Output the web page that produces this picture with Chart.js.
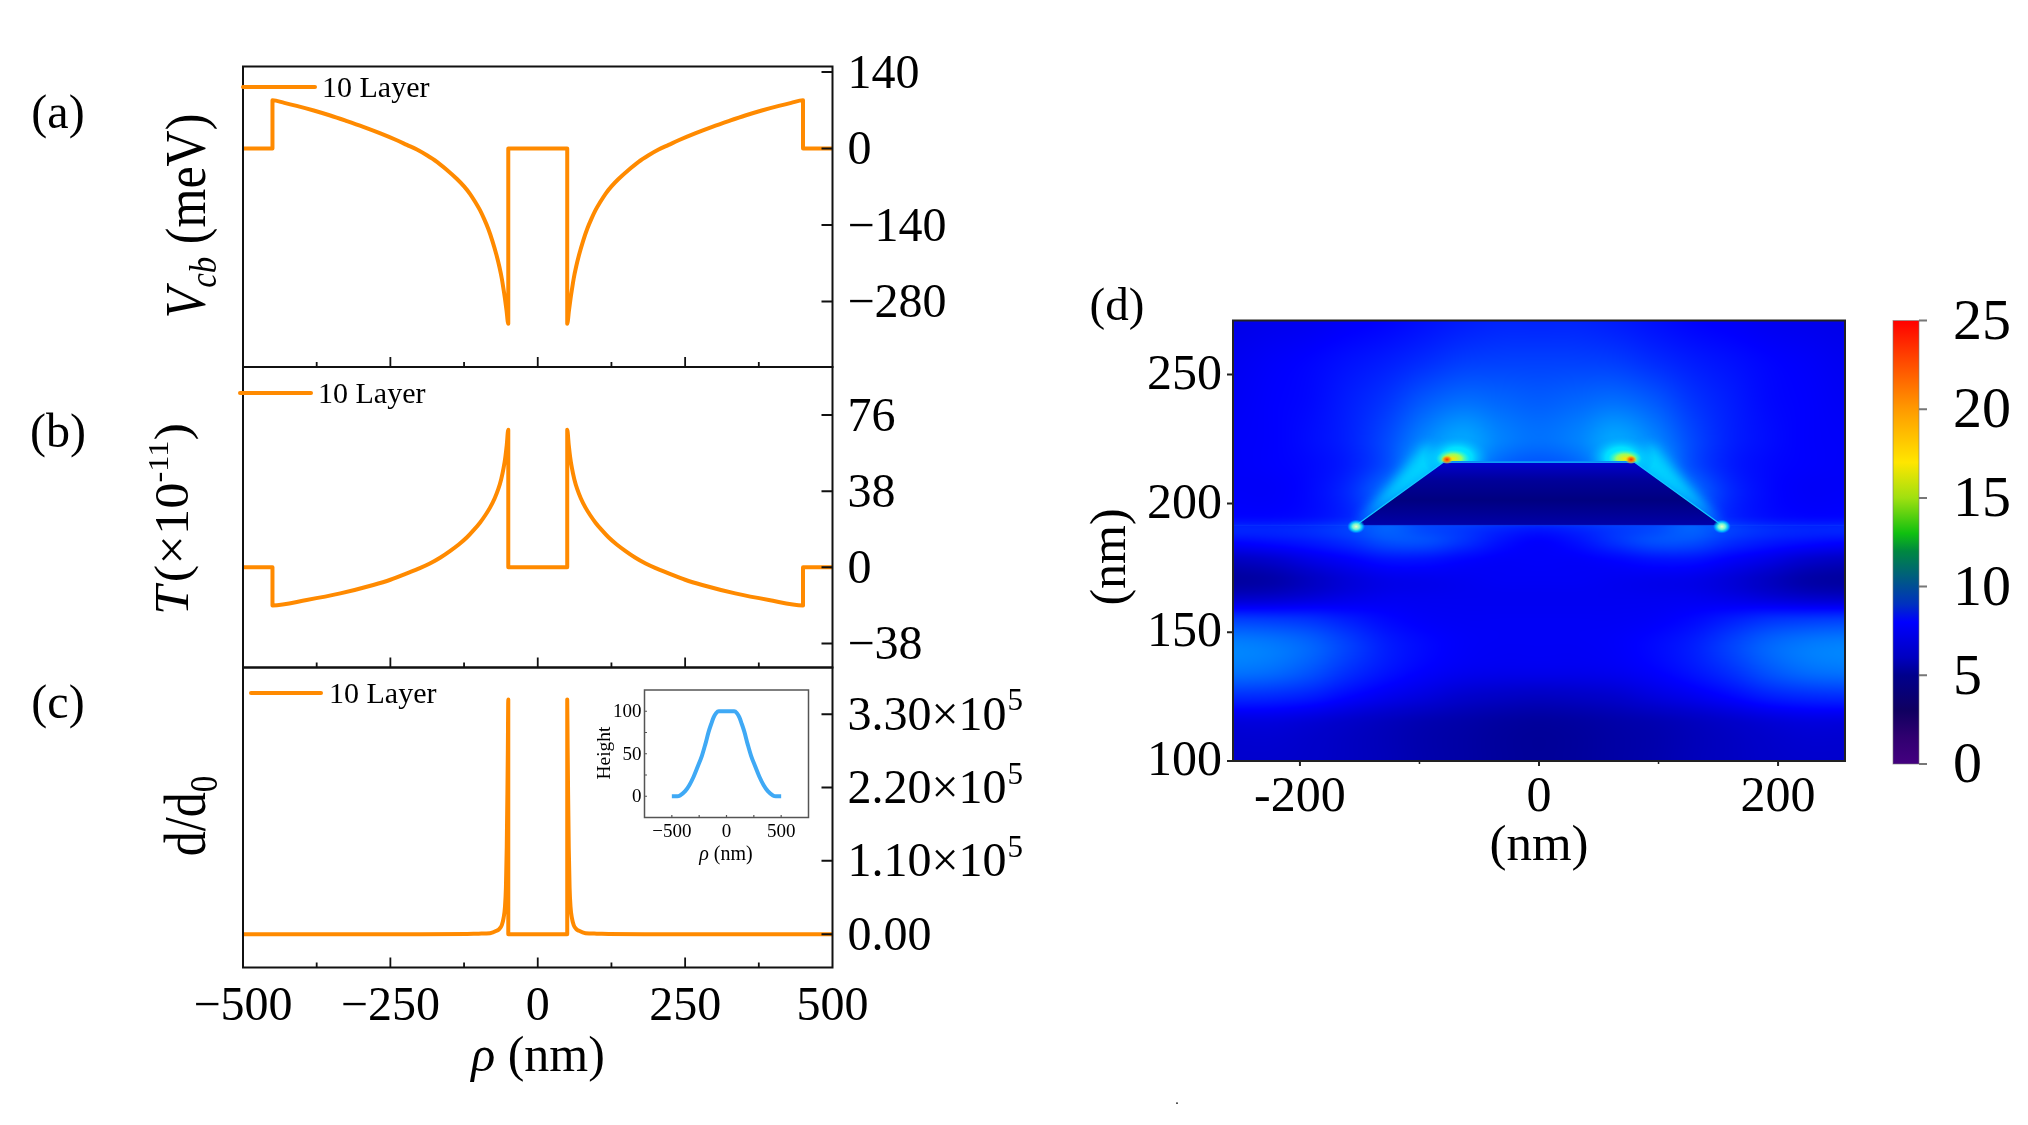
<!DOCTYPE html>
<html><head><meta charset="utf-8">
<style>html,body{margin:0;padding:0;background:#fff;width:2028px;height:1125px;overflow:hidden}
canvas{position:absolute;left:0;top:0;filter:blur(0.45px)}</style>
<script src="https://cdn.jsdelivr.net/npm/chart.js@4"></script>
</head><body>
<canvas id="ca" width="2028" height="1125"></canvas>
<canvas id="cb" width="2028" height="1125"></canvas>
<canvas id="cc" width="2028" height="1125"></canvas>
<canvas id="ci" width="2028" height="1125"></canvas>
<canvas id="cd" width="2028" height="1125"></canvas>
<canvas id="cbar" width="2028" height="1125"></canvas>
<script>
// ---------- data ----------
const seriesName = '10 Layer';
const rhoA = [-500,-450,-450,-430,-409,-380,-352,-325,-296,-268,-239,-222,-205,-188,-171,-155,-137,-125,-115,-106,-98,-91,-84,-77,-70,-65,-61,-58,-55.6,-53,-50,-50,50,50,53,55.6,58,61,65,70,77,84,91,98,106,115,125,137,155,171,188,205,222,239,268,296,325,352,380,409,430,450,450,500];
const vcb  = [0,0,88,83.5,78,69.5,60.3,50.5,39.5,28,15,6.5,-2,-12.5,-24.5,-38.5,-56,-69.5,-83,-98,-113,-129,-147,-169,-195,-217,-238,-258,-275,-296,-321,0,0,-321,-296,-275,-258,-238,-217,-195,-169,-147,-129,-113,-98,-83,-69.5,-56,-38.5,-24.5,-12.5,-2,6.5,15,28,39.5,50.5,60.3,69.5,78,83.5,88,0,0];
const rhoB = [-500,-450,-450,-392,-335,-279,-250,-222,-200,-183,-165,-149,-134,-120,-108,-98,-89,-81,-73,-67,-62,-58,-55,-52.6,-50,-50,50,50,52.6,55,58,62,67,73,81,89,98,108,120,134,149,165,183,200,222,250,279,335,392,450,450,500];
const tVal = [0,0,-19,-16.3,-13,-8.8,-6.2,-3,-0.4,1.9,4.9,8.1,11.4,15,18.8,22.3,26,29.8,34.5,39,44,49.5,55,61,68.7,0,0,68.7,61,55,49.5,44,39,34.5,29.8,26,22.3,18.8,15,11.4,8.1,4.9,1.9,-0.4,-3,-6.2,-8.8,-13,-16.3,-19,0,0];
const rhoC = [-500,-200,-120,-100,-81,-70,-65,-61,-58,-55.6,-54,-52.6,-51.5,-50.7,-50,-50,50,50,50.7,51.5,52.6,54,55.6,58,61,65,70,81,100,120,200,500];
const dRatio = [0,0,300,800,1500,5000,8000,13500,24000,41000,70000,130000,210000,280000,352000,0,0,352000,280000,210000,130000,70000,41000,24000,13500,8000,5000,1500,800,300,0,0];
const insetRho = [-500,-450,-425,-378,-340,-301,-263,-225,-194,-163,-140,-117,-94,-71,-50,50,71,94,117,140,163,194,225,263,301,340,378,425,450,500];
const insetHeight = [0,0,1,6,13,23,35,47.5,61,76,85,93,98,100,100,100,100,98,93,85,76,61,47.5,35,23,13,6,1,0,0];

const xTicks = [-500,-250,0,250,500];
const xTickLabels = ['\u2212500','\u2212250','0','250','500'];
const xMinor = [-375,-125,125,375];
const aTicks = [140,0,-140,-280];
const aTickLabels = ['140','0','\u2212140','\u2212280'];
const bTicks = [76,38,0,-38];
const bTickLabels = ['76','38','0','\u221238'];
const cTicks = [330000,220000,110000,0];
const cTickLabels = ['3.30\u00D710','2.20\u00D710','1.10\u00D710','0.00'];
const cTickExponents = ['5','5','5',''];
const insetXTicks = [-500,0,500];
const insetXLabels = ['\u2212500','0','500'];
const insetYTicks = [100,50,0];

// electric field map (d): column positions, row positions, field values
const fieldX = [-256,-224,-192,-160,-128,-96,-64,-32,0,32,64,96,128,160,192,224,256];
const fieldY = [271,255,240,225,215,205,195,190,185,178,170,163,155,145,135,125,115,100];
const field = [
[2.6,2.7,2.8,3.0,3.2,3.5,3.8,4.0,4.0,4.0,3.8,3.5,3.2,3.0,2.8,2.7,2.6],
[2.8,3.0,3.2,3.5,3.8,4.2,4.6,4.7,4.7,4.7,4.6,4.2,3.8,3.5,3.2,3.0,2.8],
[2.9,3.1,3.3,3.8,4.4,5.3,5.8,5.6,5.4,5.6,5.8,5.3,4.4,3.8,3.3,3.1,2.9],
[3.0,3.1,3.4,3.9,4.9,6.4,7.2,6.3,5.9,6.3,7.2,6.4,4.9,3.9,3.4,3.1,3.0],
[3.0,3.1,3.3,3.8,5.0,7.2,7.0,5.6,5.2,5.6,7.0,7.2,5.0,3.8,3.3,3.1,3.0],
[3.0,3.0,3.3,4.1,5.8,7.0,5.0,5.0,5.0,5.0,5.0,7.0,5.8,4.1,3.3,3.0,3.0],
[3.2,3.2,3.4,4.0,5.4,5.0,5.0,5.0,5.0,5.0,5.0,5.0,5.4,4.0,3.4,3.2,3.2],
[4.0,4.0,4.2,4.7,5.5,4.9,4.5,4.0,3.7,4.0,4.5,4.9,5.5,4.7,4.2,4.0,4.0],
[3.2,3.4,3.7,4.2,5.0,5.0,4.3,3.5,3.1,3.5,4.3,5.0,5.0,4.2,3.7,3.4,3.2],
[1.6,1.9,2.5,3.0,3.5,3.5,3.2,3.0,3.0,3.0,3.2,3.5,3.5,3.0,2.5,1.9,1.6],
[0.8,1.0,1.6,2.2,2.6,2.7,2.8,2.9,2.9,2.9,2.8,2.7,2.6,2.2,1.6,1.0,0.8],
[1.9,2.0,2.3,2.6,2.8,2.8,2.8,2.8,2.8,2.8,2.8,2.8,2.8,2.6,2.3,2.0,1.9],
[4.6,4.5,4.3,3.8,3.3,3.0,2.9,2.9,2.9,2.9,2.9,3.0,3.3,3.8,4.3,4.5,4.6],
[6.3,6.1,5.6,4.7,3.8,3.3,3.0,2.9,2.9,2.9,3.0,3.3,3.8,4.7,5.6,6.1,6.3],
[6.0,5.8,5.2,4.3,3.6,3.1,2.8,2.7,2.7,2.7,2.8,3.1,3.6,4.3,5.2,5.8,6.0],
[4.2,4.1,3.8,3.2,2.7,2.3,1.9,1.7,1.6,1.7,1.9,2.3,2.7,3.2,3.8,4.1,4.2],
[2.3,2.3,2.1,1.8,1.5,1.2,1.0,0.8,0.7,0.8,1.0,1.2,1.5,1.8,2.1,2.3,2.3],
[1.9,1.9,1.8,1.6,1.4,1.1,0.9,0.7,0.6,0.7,0.9,1.1,1.4,1.6,1.8,1.9,1.9]];
const structureX = [-153,-80,80,153];
const structureY = [191.5,216,216,191.5];
const structureTopX = [-80,80];
const structureTopY = [216,216];
const interfaceX = [-256,-153,153,256];
const interfaceY = [191.5,191.5,191.5,191.5];
const hotX = [-77,77];
const hotY = [217,217];
const edgeHotX = [-153,153];
const edgeHotY = [191,191];
const dXTicks = [-200,0,200];
const dXMinor = [-100,100];
const dYTicks = [100,150,200,250];
const barTicks = [0,5,10,15,20,25];
const barStops = [0,1.5,3,5,6,8,9,10.5,12,13,15,17,20,23,25];
const barColors = ['#440080','#300070','#100060','#00008c','#0000c0','#0000ff','#0030c0','#005c80','#008840','#10c010','#a0e010','#ffe600','#ff9a00','#ff4000','#ff0000'];
const jetStops = [0,3.125,9.375,15.625,21.875,25];
const jetColors = [[0,0,128],[0,0,255],[0,255,255],[255,255,0],[255,0,0],[128,0,0]];

// ---------- helpers ----------
const SERIF = '"Liberation Serif"';
const W = 2028, H = 1125;
const ORANGE = '#FF8A00';
Chart.defaults.devicePixelRatio = 1;
Chart.defaults.font.family = SERIF;

function rich(ctx, runs, cx, cy, o){
  o = o || {};
  ctx.save();
  ctx.translate(cx, cy);
  if (o.rot) ctx.rotate(-Math.PI/2);
  ctx.scale(o.sx||1, o.sy||1);
  ctx.fillStyle = '#000';
  ctx.textBaseline = 'alphabetic';
  ctx.textAlign = 'left';
  let w = 0;
  runs.forEach(r => { ctx.font = r.f; r.w = ctx.measureText(r.t).width; w += r.w; });
  let x = -w/2;
  const base = o.base == null ? 0 : o.base;
  runs.forEach(r => { ctx.font = r.f; ctx.fillText(r.t, x, base + (r.dy||0)); x += r.w; });
  ctx.restore();
}
function frame(chart, color, lw){
  const a = chart.chartArea, c = chart.ctx;
  c.save(); c.strokeStyle = color; c.lineWidth = lw;
  c.strokeRect(a.left, a.top, a.right-a.left, a.bottom-a.top);
  c.restore();
}
function xMarks(chart, vals, len, lw, color, out){
  const c = chart.ctx, a = chart.chartArea, s = chart.scales.x;
  c.save(); c.strokeStyle = color; c.lineWidth = lw; c.beginPath();
  vals.forEach(v => { const p = s.getPixelForValue(v); c.moveTo(p, a.bottom); c.lineTo(p, a.bottom + (out?len:-len)); });
  c.stroke(); c.restore();
}
function yMarks(chart, vals, len, lw, color, side, out){
  const c = chart.ctx, a = chart.chartArea, s = chart.scales.y;
  const e = side === 'right' ? a.right : a.left;
  const d = (side === 'right' ? 1 : -1) * (out ? 1 : -1);
  c.save(); c.strokeStyle = color; c.lineWidth = lw; c.beginPath();
  vals.forEach(v => { const p = s.getPixelForValue(v); c.moveTo(e, p); c.lineTo(e + d*len, p); });
  c.stroke(); c.restore();
}
function legendMark(chart, x0, x1, y, tx){
  const c = chart.ctx, ds = chart.data.datasets[0];
  c.save(); c.strokeStyle = ds.borderColor; c.lineWidth = 4; c.lineCap = 'round';
  c.beginPath(); c.moveTo(x0, y); c.lineTo(x1, y); c.stroke();
  c.fillStyle = '#000'; c.font = '30px '+SERIF; c.textBaseline = 'middle'; c.textAlign = 'left';
  c.fillText(ds.label, tx, y+2.5);
  c.restore();
}
// axis boxes get a fixed size, so the plot rectangle is exactly the box given
const axisFit = size => s => {
  if (s.isHorizontal()) s.height = size; else s.width = size;
  s.paddingLeft = s.paddingRight = s.paddingTop = s.paddingBottom = 0;
};
function fixedTicks(vals){ return s => { s.ticks = vals.map(v => ({value:v})); }; }
function pts(xs, ys){ return xs.map((x,i) => ({x, y:ys[i]})); }
function pad(b, ax){
  ax = ax || {};
  return {left:b[0]-(ax.left||0), top:b[1], right:W-b[2]-(ax.right||0), bottom:H-b[3]-(ax.bottom||0)};
}

function linePanel(id, box, xs, ys, yRange, yVals, yLabels, opt){
  return new Chart(document.getElementById(id), {
    type:'line',
    data:{datasets:[{label:seriesName, data:pts(xs,ys), borderColor:ORANGE, backgroundColor:ORANGE, borderWidth:4, pointRadius:0, cubicInterpolationMode:'monotone', borderJoinStyle:'round', borderCapStyle:'round', fill:false}]},
    options:{responsive:false, animation:false, parsing:false,
      layout:{padding:pad(box,{right:190,bottom:100})},
      plugins:{legend:{display:false}, tooltip:{enabled:false}},
      scales:{
        x:{type:'linear', min:-500, max:500, bounds:'data', grid:{display:false, drawTicks:false}, border:{display:false},
           afterFit:axisFit(100), afterBuildTicks:fixedTicks(xTicks),
           ticks:{display:!!opt.xLabels, autoSkip:false, maxRotation:0, padding:11, color:'#000', font:{size:48, family:SERIF},
                  callback:(v,i)=>xTickLabels[i]}},
        y:{type:'linear', position:'right', min:yRange[0], max:yRange[1], bounds:'data', grid:{display:false, drawTicks:false}, border:{display:false},
           afterFit:axisFit(190), afterBuildTicks:fixedTicks(yVals),
           ticks:{autoSkip:false, padding:15, labelOffset:3, color:'#000', font:{size:48, family:SERIF}, callback:(v,i)=>yLabels[i]}}
      }},
    plugins:[{id:'deco', afterDraw(chart){
      frame(chart, '#111', 2);
      xMarks(chart, xTicks.slice(1,-1), 10, 1.8, '#111');
      xMarks(chart, xMinor, 5, 1.8, '#111');
      yMarks(chart, yVals, 11, 2, '#111', 'right');
      opt.deco(chart);
    }}]
  });
}

const italic = s => 'italic '+s+'px '+SERIF;
const roman = s => s+'px '+SERIF;

linePanel('ca',[243,66.5,832.5,367],rhoA,vcb,[-400,150],aTicks,aTickLabels,{deco(ch){
  legendMark(ch,243,315,87,322);
  rich(ch.ctx,[{t:'(a)',f:roman(48)}],58,128);
  rich(ch.ctx,[{t:'V',f:italic(50)},{t:'cb',f:italic(33),dy:10},{t:' (meV)',f:roman(50)}],205,216,{rot:true,sy:1.12,sx:1.0});
}});
linePanel('cb',[243,367,832.5,667.5],rhoB,tVal,[-50,100],bTicks,bTickLabels,{deco(ch){
  legendMark(ch,240,311,393,318);
  rich(ch.ctx,[{t:'(b)',f:roman(48)}],58,447);
  rich(ch.ctx,[{t:'T',f:italic(50)},{t:' ',f:roman(14)},{t:'(\u00D710',f:roman(50)},{t:'-11',f:roman(31),dy:-20},{t:')',f:roman(50)}],188,519,{rot:true,sx:1.05,sy:0.98});
}});
linePanel('cc',[243,667.5,832.5,967.5],rhoC,dRatio,[-50000,400000],cTicks,cTickLabels,{xLabels:true,deco(ch){
  legendMark(ch,251,321,693,329);
  rich(ch.ctx,[{t:'(c)',f:roman(48)}],58,718);
  rich(ch.ctx,[{t:'d/d',f:roman(50)},{t:'0',f:roman(33),dy:10}],205,816,{rot:true,sy:1.2});
  rich(ch.ctx,[{t:'\u03C1',f:italic(50)},{t:' (nm)',f:roman(50)}],538,1071);
  // exponents of the tick labels
  const c = ch.ctx, s = ch.scales.y;
  c.save(); c.font = roman(48);
  const x0 = ch.chartArea.right + 15;
  cTickLabels.forEach((t,i)=>{
    if(!cTickExponents[i]) return;
    const w = c.measureText(t).width;
    c.save(); c.font = roman(31); c.fillStyle='#000'; c.textBaseline='alphabetic'; c.textAlign='left';
    c.fillText(cTickExponents[i], x0+w+1, s.getPixelForValue(cTicks[i])-4);
    c.restore();
  });
  c.restore();
}});

new Chart(document.getElementById('ci'),{
  type:'line',
  data:{datasets:[{label:'Height',data:pts(insetRho,insetHeight),borderColor:'#3FA9F5',borderWidth:4,pointRadius:0,cubicInterpolationMode:'monotone',fill:false}]},
  options:{responsive:false,animation:false,parsing:false,
    layout:{padding:pad([644.5,690,808.5,817.5],{left:40,bottom:30})},
    plugins:{legend:{display:false},tooltip:{enabled:false}},
    scales:{
      x:{type:'linear',min:-750,max:750,bounds:'data',grid:{display:false,drawTicks:false},border:{display:false},afterFit:axisFit(30),afterBuildTicks:fixedTicks(insetXTicks),
         ticks:{autoSkip:false,maxRotation:0,padding:3,color:'#000',font:{size:19,family:SERIF},callback:(v,i)=>insetXLabels[i]}},
      y:{type:'linear',min:-25,max:125,bounds:'data',grid:{display:false,drawTicks:false},border:{display:false},afterFit:axisFit(40),afterBuildTicks:fixedTicks(insetYTicks),
         ticks:{autoSkip:false,padding:3,labelOffset:1,color:'#000',font:{size:19,family:SERIF},callback:v=>String(v)}}
    }},
  plugins:[{id:'deco',afterDraw(chart){
    frame(chart,'#555',1.5);
    xMarks(chart,[-500,-250,0,250,500],2.5,1.2,'#555');
    yMarks(chart,[0,25,50,75,100],2.5,1.2,'#555','left');
    rich(chart.ctx,[{t:'Height',f:roman(19.5)}],604,753,{rot:true,base:6});
    rich(chart.ctx,[{t:'\u03C1',f:italic(20)},{t:' (nm)',f:roman(20)}],726,860);
  }}]
});

// ---------- field map ----------
const jetLUT = (() => {
  const n = 1024, t = new Uint8ClampedArray(n*3);
  for (let i=0;i<n;i++){
    const v = i/(n-1)*25; let k = 0;
    while (k < jetStops.length-2 && v > jetStops[k+1]) k++;
    const f = (v-jetStops[k])/(jetStops[k+1]-jetStops[k]);
    for (let c=0;c<3;c++) t[i*3+c] = jetColors[k][c] + f*(jetColors[k+1][c]-jetColors[k][c]);
  }
  return t;
})();
function gridPos(list, v){
  const last = list.length-1;
  for (let i=0;i<last;i++){
    const a = list[i], b = list[i+1];
    if ((v>=a && v<=b) || (v<=a && v>=b)) return i + (v-a)/(b-a);
  }
  return (Math.abs(v-list[0]) < Math.abs(v-list[last])) ? 0 : last;
}
function cr(a,b,c,d,t){ return 0.5*((2*b)+(-a+c)*t+(2*a-5*b+4*c-d)*t*t+(-a+3*b-3*c+d)*t*t*t); }
function paintField(chart){
  const a = chart.chartArea, sx = chart.scales.x, sy = chart.scales.y;
  const w = Math.round(a.right-a.left), h = Math.round(a.bottom-a.top);
  const off = document.createElement('canvas'); off.width = w; off.height = h;
  const oc = off.getContext('2d'), img = oc.createImageData(w,h), d = img.data;
  const nx = fieldX.length, ny = fieldY.length;
  const fx = [], fy = [];
  for (let i=0;i<w;i++) fx.push(gridPos(fieldX, sx.getValueForPixel(a.left+i+0.5)));
  for (let j=0;j<h;j++) fy.push(gridPos(fieldY, sy.getValueForPixel(a.top+j+0.5)));
  const cl = (v,m)=>v<0?0:v>m?m:v;
  for (let j=0;j<h;j++){
    const r = Math.min(Math.floor(fy[j]),ny-2), tr = fy[j]-r;
    const R = [field[cl(r-1,ny-1)],field[r],field[r+1],field[cl(r+2,ny-1)]];
    for (let i=0;i<w;i++){
      const c = Math.min(Math.floor(fx[i]),nx-2), tc = fx[i]-c;
      const c0=cl(c-1,nx-1),c1=c,c2=c+1,c3=cl(c+2,nx-1);
      const col = R.map(q=>cr(q[c0],q[c1],q[c2],q[c3],tc));
      const v = cl(cr(col[0],col[1],col[2],col[3],tr),25);
      const k = Math.round(v/25*1023)*3, p=(j*w+i)*4;
      d[p]=jetLUT[k];d[p+1]=jetLUT[k+1];d[p+2]=jetLUT[k+2];d[p+3]=255;
    }
  }
  oc.putImageData(img,0,0);
  chart.ctx.drawImage(off,a.left,a.top);
}
function halo(c,x,y,rx,ry,stops){
  c.save(); c.translate(x,y); c.scale(rx,ry);
  const g = c.createRadialGradient(0,0,0,0,0,1);
  stops.forEach(s=>g.addColorStop(s[0],s[1]));
  c.fillStyle=g; c.beginPath(); c.arc(0,0,1,0,Math.PI*2); c.fill(); c.restore();
}
new Chart(document.getElementById('cd'),{
  type:'line',
  data:{datasets:[
    {label:'interface',data:pts(interfaceX,interfaceY),borderColor:'rgba(30,120,255,0.2)',borderWidth:1,pointRadius:0,tension:0,fill:false},
    {label:'structure',data:pts(structureX,structureY),pointRadius:0,tension:0,borderWidth:1.2,
     borderColor:'#10c8ff',
     fill:{value:191.5},
     backgroundColor:c=>{
       const ch=c.chart; if(!ch.chartArea) return '#000090';
       const s=ch.scales.y,g=ch.ctx.createLinearGradient(0,s.getPixelForValue(216),0,s.getPixelForValue(191.5));
       g.addColorStop(0,'#0000d0');g.addColorStop(0.3,'#000098');g.addColorStop(0.6,'#000080');g.addColorStop(1,'#0000a8');
       return g;
     }},
    {label:'top edge',data:pts(structureTopX,structureTopY),pointRadius:0,tension:0,borderWidth:2.5,borderColor:'#0050f0',fill:false}
  ]},
  options:{responsive:false,animation:false,parsing:false,
    layout:{padding:pad([1233,320.5,1845,761],{left:140,bottom:60})},
    plugins:{legend:{display:false},tooltip:{enabled:false}},
    scales:{
      x:{type:'linear',min:-256,max:256,bounds:'data',grid:{display:false,drawTicks:false},border:{display:false},afterFit:axisFit(60),afterBuildTicks:fixedTicks(dXTicks),
         ticks:{autoSkip:false,maxRotation:0,padding:7,color:'#000',font:{size:50,family:SERIF},callback:v=>String(v)}},
      y:{type:'linear',min:100,max:271,bounds:'data',grid:{display:false,drawTicks:false},border:{display:false},afterFit:axisFit(140),afterBuildTicks:fixedTicks(dYTicks),
         ticks:{autoSkip:false,padding:11,labelOffset:1,color:'#000',font:{size:50,family:SERIF},callback:v=>String(v)}}
    }},
  plugins:[{id:'field',
    beforeDatasetsDraw(chart){
      const a=chart.chartArea,c=chart.ctx,sx=chart.scales.x,sy=chart.scales.y;
      paintField(chart);
      c.save(); c.beginPath(); c.rect(a.left,a.top,a.right-a.left,a.bottom-a.top); c.clip();
      // glow along the sloped sides
      c.filter='blur(6px)';
      c.fillStyle='rgba(0,215,255,0.95)';
      [[0,1,-1],[3,2,1]].forEach(e=>{
        const xb=structureX[e[0]],yb=structureY[e[0]],xt=structureX[e[1]],yt=structureY[e[1]];
        c.beginPath();
        c.moveTo(sx.getPixelForValue(xb),sy.getPixelForValue(yb));
        c.lineTo(sx.getPixelForValue(xt),sy.getPixelForValue(yt));
        c.lineTo(sx.getPixelForValue(xt+e[2]*14),sy.getPixelForValue(yt+7));
        c.closePath(); c.fill();
      });
      c.filter='none';
      // halos over the top corners
      hotX.forEach((x,i)=>{
        const sgn=x<0?1:-1;
        const px=sx.getPixelForValue(x), py=sy.getPixelForValue(hotY[i]);
        halo(c,px+sgn*10,py-2,34,23,[[0,'rgba(0,255,255,0.95)'],[0.45,'rgba(0,235,255,0.8)'],[1,'rgba(0,140,255,0)']]);
        halo(c,px+sgn*6,py-1,17,9,[[0,'rgba(255,230,0,1)'],[0.5,'rgba(170,255,80,0.9)'],[1,'rgba(60,255,200,0)']]);
      });
      c.restore();
    },
    afterDatasetsDraw(chart){
      const c=chart.ctx,sx=chart.scales.x,sy=chart.scales.y;
      hotX.forEach((x,i)=>{
        const px=sx.getPixelForValue(x),py=sy.getPixelForValue(hotY[i]);
        halo(c,px,py,6,4.5,[[0,'rgba(255,40,0,1)'],[0.5,'rgba(255,140,0,0.9)'],[1,'rgba(255,220,0,0)']]);
      });
      edgeHotX.forEach((x,i)=>{
        const px=sx.getPixelForValue(x),py=sy.getPixelForValue(edgeHotY[i]);
        halo(c,px,py,9,7,[[0,'rgba(235,255,190,1)'],[0.4,'rgba(120,255,210,0.95)'],[0.7,'rgba(0,230,255,0.7)'],[1,'rgba(0,160,255,0)']]);
      });
    },
    afterDraw(chart){
      frame(chart,'#222',2);
      xMarks(chart,dXTicks,5,2,'#222',true);
      xMarks(chart,dXMinor,3,1.5,'#222',true);
      yMarks(chart,dYTicks,6,2,'#222','left',true);
      const c=chart.ctx;
      rich(c,[{t:'(d)',f:roman(47)}],1117,320);
      rich(c,[{t:'(nm)',f:roman(51)}],1539,860);
      rich(c,[{t:'(nm)',f:roman(50)}],1109,557,{rot:true,base:16});
      rich(c,[{t:'.',f:roman(14)}],1177,1104);
    }}]
});

// ---------- colour bar ----------
new Chart(document.getElementById('cbar'),{
  type:'bar',
  data:{labels:['E'],datasets:[{label:'scale',data:[[0,25]],barPercentage:1,categoryPercentage:1,
    backgroundColor:c=>{
      const ch=c.chart; if(!ch.chartArea) return '#00f';
      const s=ch.scales.y,g=ch.ctx.createLinearGradient(0,s.getPixelForValue(0),0,s.getPixelForValue(25));
      barStops.forEach((v,i)=>g.addColorStop(v/25,barColors[i]));
      return g;
    }}]},
  options:{responsive:false,animation:false,
    layout:{padding:pad([1893,320.5,1919,764],{right:100})},
    plugins:{legend:{display:false},tooltip:{enabled:false}},
    scales:{
      x:{display:false,grid:{display:false}},
      y:{position:'right',min:0,max:25,bounds:'data',grid:{display:false,drawTicks:false},border:{display:false},afterFit:axisFit(100),afterBuildTicks:fixedTicks(barTicks),
         ticks:{autoSkip:false,padding:34,labelOffset:3,color:'#000',font:{size:58,family:SERIF},callback:v=>String(v)}}
    }},
  plugins:[{id:'deco',afterDraw(chart){
    frame(chart,'rgba(120,120,120,0.6)',1);
    yMarks(chart,barTicks,8,2,'#777','right',true);
  }}]
});
</script>
</body></html>
